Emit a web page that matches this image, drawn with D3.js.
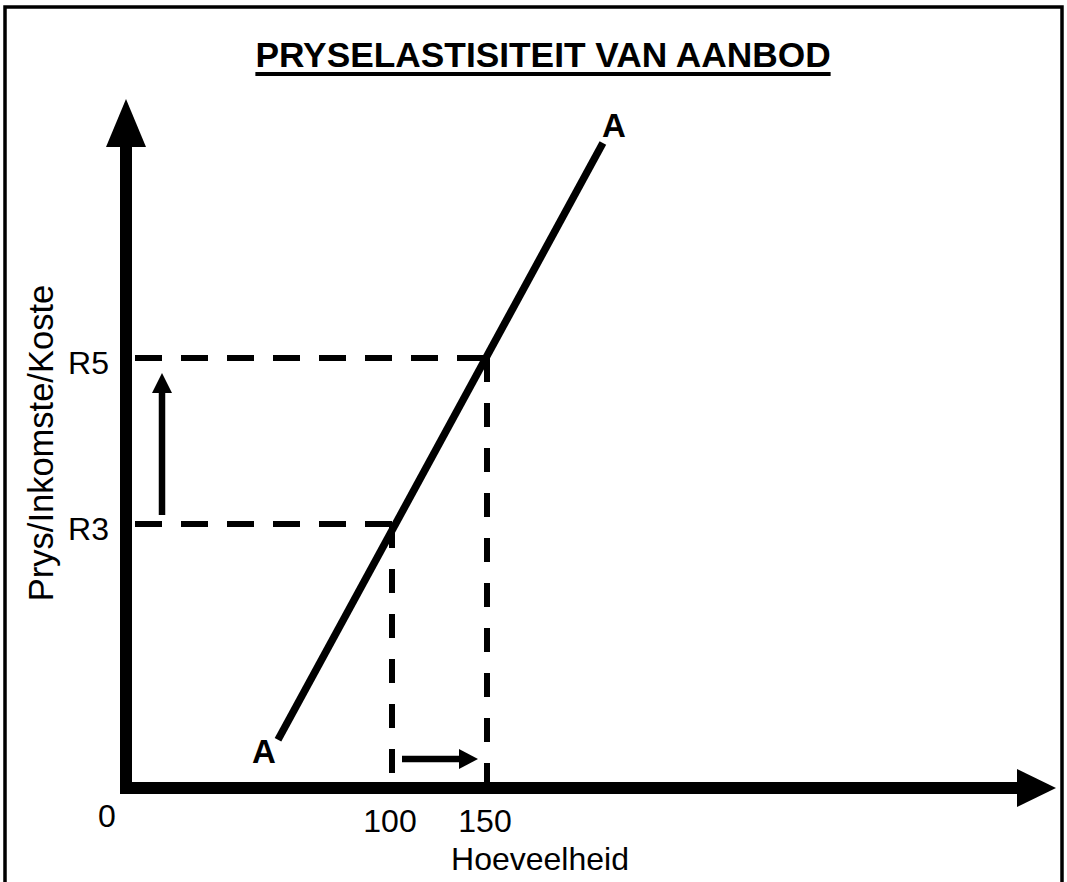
<!DOCTYPE html>
<html>
<head>
<meta charset="utf-8">
<script src="https://cdn.jsdelivr.net/npm/d3@7"></script>
<style>
  body { margin: 0; background: #fff; }
  text { font-family: "Liberation Sans", Arial, sans-serif; fill: #000; }
</style>
</head>
<body>
<div id="chart"></div>
<script>
const title = 'PRYSELASTISITEIT VAN AANBOD';
const xLabel = 'Hoeveelheid';
const yLabel = 'Prys/Inkomste/Koste';

// quantity ticks and price ticks (price in rand)
const quantities = [100, 150];
const prices = [3, 5];
const priceLabels = ['R3', 'R5'];

// supply curve A-A end points (quantity, price)
const supply = [
  { q: 40, p: 0.4 },
  { q: 211, p: 7.59 },
];

const width = 1067;
const height = 882;
const origin = { x: 126, y: 788 }; // where the two axes meet

// scales for the schematic
const x = d3.scaleLinear().domain([100, 150]).range([392, 487]);
const y = d3.scaleLinear().domain([3, 5]).range([524, 358]);

const svg = d3.select('#chart')
  .append('svg')
  .attr('width', width)
  .attr('height', height);

// outer frame
svg.append('rect')
  .attr('x', 5)
  .attr('y', 7)
  .attr('width', 1057)
  .attr('height', 900)
  .attr('fill', 'none')
  .attr('stroke', '#000')
  .attr('stroke-width', 3.5);

// title with underline
const titleText = svg.append('text')
  .attr('x', 543)
  .attr('y', 67)
  .attr('text-anchor', 'middle')
  .attr('font-size', 35.3)
  .attr('font-weight', 'bold')
  .text(title);

const tb = titleText.node().getBBox();
svg.append('line')
  .attr('x1', tb.x)
  .attr('x2', tb.x + tb.width)
  .attr('y1', 74)
  .attr('y2', 74)
  .attr('stroke', '#000')
  .attr('stroke-width', 4);

// dashed guides from the axis to the curve and down to the quantity axis
const guides = d3.zip(quantities, prices);
const dash = svg.append('g')
  .attr('stroke', '#000')
  .attr('stroke-width', 6)
  .attr('fill', 'none');

dash.selectAll('line.h')
  .data(guides)
  .enter()
  .append('line')
  .attr('class', 'h')
  .attr('x1', origin.x + 9)
  .attr('x2', d => x(d[0]))
  .attr('y1', d => y(d[1]))
  .attr('y2', d => y(d[1]))
  .attr('stroke-dasharray', '27 19');

dash.selectAll('line.v')
  .data(guides)
  .enter()
  .append('line')
  .attr('class', 'v')
  .attr('x1', d => x(d[0]))
  .attr('x2', d => x(d[0]))
  .attr('y1', d => y(d[1]))
  .attr('y2', origin.y)
  .attr('stroke-dasharray', '24 21');

// supply curve
svg.append('path')
  .datum(supply)
  .attr('d', d3.line().x(d => x(d.q)).y(d => y(d.p)))
  .attr('stroke', '#000')
  .attr('stroke-width', 7.5)
  .attr('fill', 'none');

svg.append('text')
  .attr('x', x(supply[0].q) - 14)
  .attr('y', y(supply[0].p) + 23)
  .attr('text-anchor', 'middle')
  .attr('font-size', 33)
  .attr('font-weight', 'bold')
  .text('A');

svg.append('text')
  .attr('x', x(supply[1].q) + 11)
  .attr('y', y(supply[1].p) - 6)
  .attr('text-anchor', 'middle')
  .attr('font-size', 33)
  .attr('font-weight', 'bold')
  .text('A');

// axes with arrow heads
const axes = svg.append('g').attr('fill', '#000').attr('stroke', 'none');
axes.append('rect')
  .attr('x', origin.x - 6)
  .attr('y', 146)
  .attr('width', 12)
  .attr('height', origin.y + 6 - 146);
axes.append('path')
  .attr('d', `M${origin.x - 20},147 L${origin.x},99 L${origin.x + 20},147 Z`);

axes.append('rect')
  .attr('x', origin.x - 6)
  .attr('y', origin.y - 6)
  .attr('width', 1018 - (origin.x - 6))
  .attr('height', 12);
axes.append('path')
  .attr('d', `M1017,${origin.y - 19} L1056,${origin.y} L1017,${origin.y + 19} Z`);

// small arrows showing the change in price and quantity
const pArrowX = 162;
svg.append('line')
  .attr('x1', pArrowX).attr('x2', pArrowX)
  .attr('y1', y(prices[0]) - 9)
  .attr('y2', y(prices[1]) + 34)
  .attr('stroke', '#000')
  .attr('stroke-width', 6.5);
svg.append('path')
  .attr('d', `M${pArrowX - 10},${y(prices[1]) + 35} L${pArrowX},${y(prices[1]) + 15} L${pArrowX + 10},${y(prices[1]) + 35} Z`);

const qArrowY = 759;
svg.append('line')
  .attr('x1', x(quantities[0]) + 10)
  .attr('x2', x(quantities[1]) - 28)
  .attr('y1', qArrowY).attr('y2', qArrowY)
  .attr('stroke', '#000')
  .attr('stroke-width', 6.5);
svg.append('path')
  .attr('d', `M${x(quantities[1]) - 28},${qArrowY - 10} L${x(quantities[1]) - 9},${qArrowY} L${x(quantities[1]) - 28},${qArrowY + 10} Z`);

// tick labels
svg.selectAll('text.qtick')
  .data(quantities)
  .enter()
  .append('text')
  .attr('class', 'qtick')
  .attr('x', d => x(d) - 2)
  .attr('y', 832)
  .attr('text-anchor', 'middle')
  .attr('font-size', 32)
  .text(d => d);

svg.append('text')
  .attr('x', 107)
  .attr('y', 827)
  .attr('text-anchor', 'middle')
  .attr('font-size', 32)
  .text('0');

svg.selectAll('text.ptick')
  .data(prices)
  .enter()
  .append('text')
  .attr('class', 'ptick')
  .attr('x', 109)
  .attr('y', d => y(d) + 16)
  .attr('text-anchor', 'end')
  .attr('font-size', 32)
  .text((d, i) => priceLabels[i]);

// axis titles
svg.append('text')
  .attr('x', 540)
  .attr('y', 870)
  .attr('text-anchor', 'middle')
  .attr('font-size', 32)
  .text(xLabel);

svg.append('text')
  .attr('transform', 'translate(53,443) rotate(-90)')
  .attr('text-anchor', 'middle')
  .attr('font-size', 34.5)
  .text(yLabel);
</script>
</body>
</html>
